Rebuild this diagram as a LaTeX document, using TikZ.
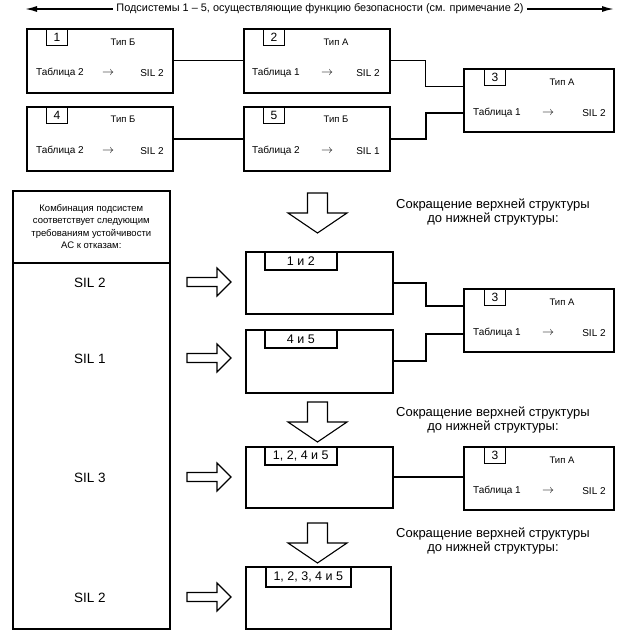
\documentclass[tikz,border=0pt]{standalone}
\usepackage{fontspec}
\setmainfont{Liberation Sans}
\usetikzlibrary{positioning, arrows.meta, calc}

\begin{document}
\begin{tikzpicture}[
    x=1pt, y=-1pt,
    unit/.style={rectangle, draw=black, line width=1.6pt, minimum width=146pt,
                 minimum height=64pt, anchor=north west, inner sep=0pt},
    wideunit/.style={unit, minimum width=150pt, minimum height=63pt},
    numtab/.style={rectangle, draw=black, line width=1pt, minimum width=21pt,
                   minimum height=17pt, anchor=north west, inner sep=0pt,
                   font=\fontsize{12}{12}\selectfont},
    grouptab/.style={rectangle, draw=black, line width=1.6pt, minimum width=72pt,
                     minimum height=18pt, anchor=north west, inner sep=0pt,
                     font=\fontsize{12.5}{12.5}\selectfont},
    typelabel/.style={font=\fontsize{9.5}{9.5}\selectfont},
    rowlabel/.style={font=\fontsize{10}{10}\selectfont},
    rowarrow/.style={font=\fontsize{12}{12}\selectfont},
    silcell/.style={font=\fontsize{13.5}{13.5}\selectfont},
    note/.style={font=\fontsize{13}{13.5}\selectfont, align=center},
    thinline/.style={line width=0.9pt},
    thickline/.style={line width=1.9pt},
    hollow/.style={draw=black, line width=1.1pt, fill=white, line join=miter}
]
    \useasboundingbox (0,0) rectangle (618,633);

    % Heading arrow
    \coordinate (lend) at (25,9);
    \coordinate (rend) at (614,9);
    \node[font=\fontsize{10.9}{10.9}\selectfont, inner sep=3pt] (heading) at (320,9)
        {Подсистемы 1 – 5, осуществляющие функцию безопасности (см. примечание 2)};
    \draw[line width=1.5pt, -{Latex[length=12pt, width=6pt]}] (heading.west) -- (lend);
    \draw[line width=1.5pt, -{Latex[length=12pt, width=6pt]}] (heading.east) -- (rend);

    % Subsystem 1
    \node[unit] (s1) at (26,28) {};
    \node[numtab] (n1) at (46,28) {1};
    \node[typelabel] at (123,42) {Тип Б};
    \node[rowlabel] at (60,73) {Таблица 2};
    \node[rowarrow] at (108,73) {$\rightarrow$};
    \node[rowlabel] at (152,73) {SIL 2};

    % Subsystem 2
    \node[unit] (s2) at (243,28) {};
    \node[numtab] (n2) at (263,28) {2};
    \node[typelabel] at (336,42) {Тип А};
    \node[rowlabel] at (276,73) {Таблица 1};
    \node[rowarrow] at (327,73) {$\rightarrow$};
    \node[rowlabel] at (368,73) {SIL 2};

    % Subsystem 3
    \node[wideunit] (s3) at (463,68) {};
    \node[numtab] (n3) at (484,68) {3};
    \node[typelabel] at (562,82) {Тип А};
    \node[rowlabel] at (497,113) {Таблица 1};
    \node[rowarrow] at (548,113) {$\rightarrow$};
    \node[rowlabel] at (594,113) {SIL 2};

    % Subsystem 4
    \node[unit] (s4) at (26,106) {};
    \node[numtab] (n4) at (46,106) {4};
    \node[typelabel] at (123,119) {Тип Б};
    \node[rowlabel] at (60,151) {Таблица 2};
    \node[rowarrow] at (108,151) {$\rightarrow$};
    \node[rowlabel] at (152,151) {SIL 2};

    % Subsystem 5
    \node[unit] (s5) at (243,106) {};
    \node[numtab] (n5) at (263,106) {5};
    \node[typelabel] at (336,119) {Тип Б};
    \node[rowlabel] at (276,151) {Таблица 2};
    \node[rowarrow] at (327,151) {$\rightarrow$};
    \node[rowlabel] at (368,151) {SIL 1};

    % Links of the full structure
    \draw[thinline] (s1) -- (s2);
    \draw[thinline] (s2.east) -- ++(35,0) |- ([yshift=14pt]s3.west);
    \draw[thickline] (s4) -- (s5);
    \draw[thickline] (s5.east) -- ++(35,0) |- ([yshift=-13pt]s3.west);

    % Requirement column
    \node[rectangle, draw=black, line width=1.6pt, minimum width=157pt, minimum height=72pt,
          anchor=north west, inner sep=0pt] (head) at (12,190) {};
    \node[font=\fontsize{9.5}{12.5}\selectfont, align=center] at (head.center)
        {Комбинация подсистем\\соответствует следующим\\требованиям устойчивости\\АС к отказам:};
    \node[rectangle, draw=black, line width=1.6pt, minimum width=157pt, minimum height=366pt,
          anchor=north west, inner sep=0pt] (body) at (12,262) {};
    \node[silcell] (r1) at (90,283) {SIL 2};
    \node[silcell] (r2) at (90,359) {SIL 1};
    \node[silcell] (r3) at (90,478) {SIL 3};
    \node[silcell] (r4) at (90,598) {SIL 2};

    % Reduction arrows
    \foreach \ytop in {193, 402, 523} {
        \draw[hollow] (307.5,\ytop) -- (327.5,\ytop) -- (327.5,\ytop+20) -- (347,\ytop+20)
            -- (317.5,\ytop+40) -- (288,\ytop+20) -- (307.5,\ytop+20) -- cycle;
    }
    \foreach \ymid in {282, 358, 477, 597} {
        \draw[hollow] (187,\ymid-4.5) -- (217,\ymid-4.5) -- (217,\ymid-14) -- (231,\ymid)
            -- (217,\ymid+14) -- (217,\ymid+4.5) -- (187,\ymid+4.5) -- cycle;
    }

    % Notes
    \node[note] at (493,212) {Сокращение верхней структуры\\до нижней структуры:};
    \node[note] at (493,420) {Сокращение верхней структуры\\до нижней структуры:};
    \node[note] at (493,541) {Сокращение верхней структуры\\до нижней структуры:};

    % Reduced structure, step 1
    \node[unit, minimum width=147pt, minimum height=62pt] (g12) at (245,251) {};
    \node[grouptab] at (264,251) {1 и 2};
    \node[unit, minimum width=147pt, minimum height=63pt] (g45) at (245,329) {};
    \node[grouptab] at (264,329) {4 и 5};
    \node[wideunit] (s3b) at (463,288) {};
    \node[numtab] at (484,288) {3};
    \node[typelabel] at (562,302) {Тип А};
    \node[rowlabel] at (497,333) {Таблица 1};
    \node[rowarrow] at (548,333) {$\rightarrow$};
    \node[rowlabel] at (594,333) {SIL 2};
    \draw[thickline] (g12.east) -- ++(32,0) |- ([yshift=14.5pt]s3b.west);
    \draw[thickline] (g45.east) -- ++(32,0) |- ([yshift=-13.5pt]s3b.west);

    % Reduced structure, step 2
    \node[unit, minimum width=147pt, minimum height=61pt] (g1245) at (245,446) {};
    \node[grouptab] at (264,446) {1, 2, 4 и 5};
    \node[wideunit] (s3c) at (463,446) {};
    \node[numtab] at (484,446) {3};
    \node[typelabel] at (562,460) {Тип А};
    \node[rowlabel] at (497,491) {Таблица 1};
    \node[rowarrow] at (548,491) {$\rightarrow$};
    \node[rowlabel] at (594,491) {SIL 2};
    \draw[thickline] (g1245.east) -- (g1245.east -| s3c.west);

    % Reduced structure, step 3
    \node[unit, minimum width=145pt, minimum height=62pt] (gall) at (245,566) {};
    \node[grouptab, minimum width=85pt, minimum height=20pt] at (265,566) {1, 2, 3, 4 и 5};

\end{tikzpicture}
\end{document}
